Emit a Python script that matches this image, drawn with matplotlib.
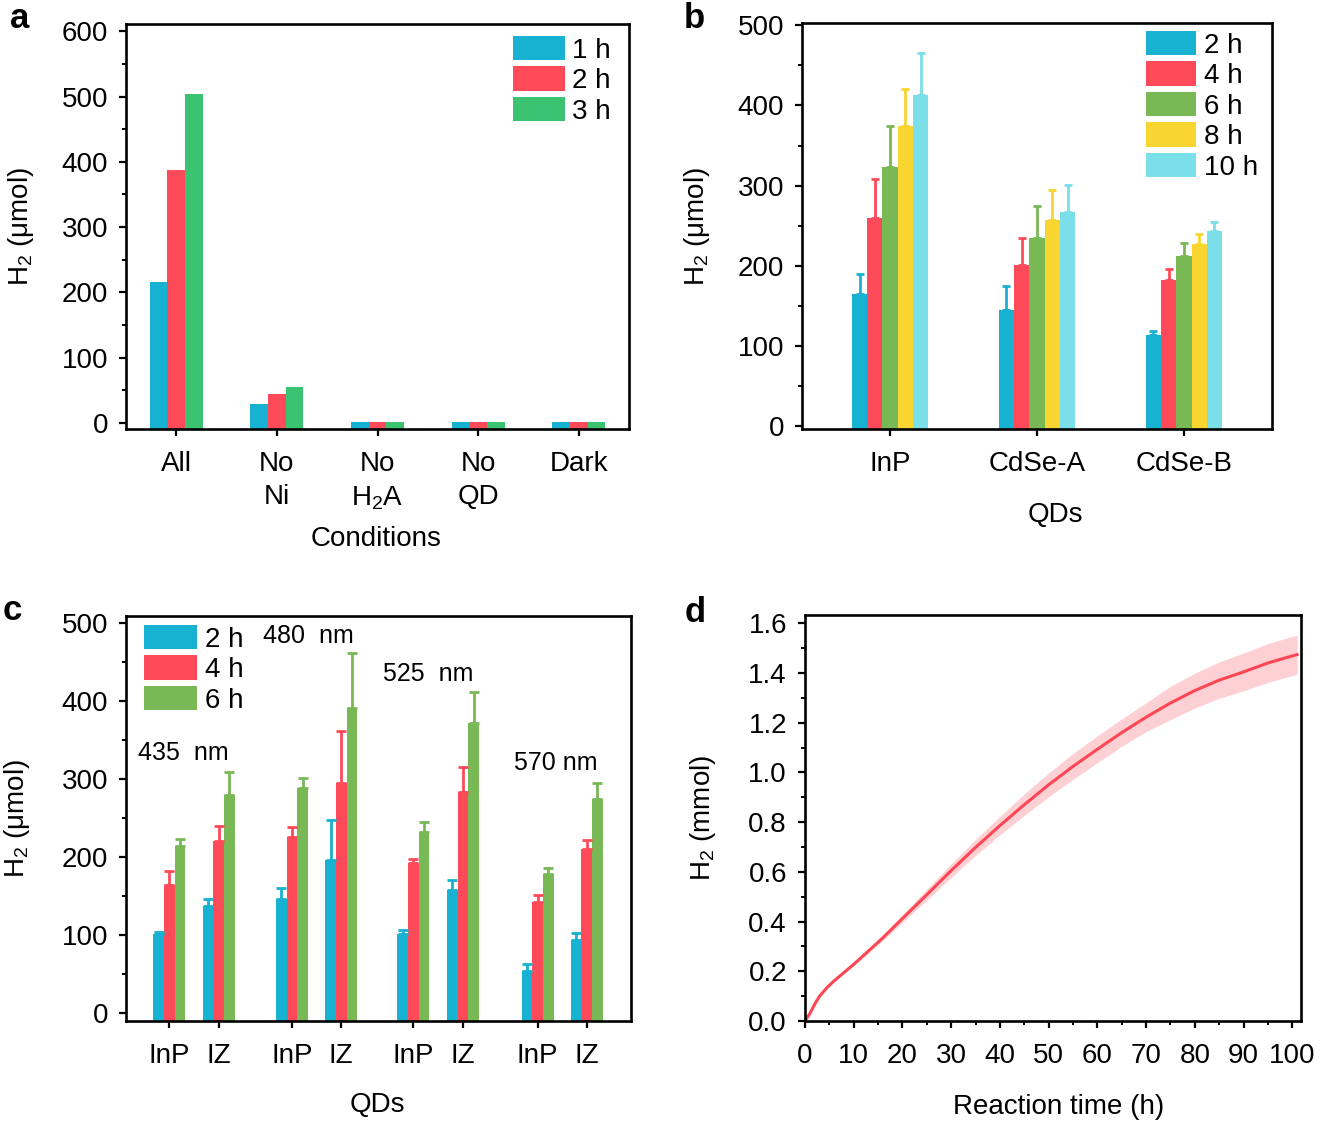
import matplotlib
matplotlib.use("Agg")
import matplotlib.pyplot as plt
import numpy as np
from matplotlib.ticker import MultipleLocator, FormatStrFormatter

plt.rcParams["font.family"] = ["Liberation Sans", "DejaVu Sans"]
plt.rcParams["mathtext.fontset"] = "custom"
plt.rcParams["mathtext.rm"] = "Liberation Sans"
plt.rcParams["mathtext.it"] = "Liberation Sans:italic"
plt.rcParams["font.size"] = 20

# ---- panel a data ----
a_conditions = ["All", "No\nNi", "No\nH$_2$A", "No\nQD", "Dark"]
a_labels = ["1 h", "2 h", "3 h"]
a_1h = [216, 29, 2, 2, 2]
a_2h = [387, 44, 2, 2, 2]
a_3h = [504, 56, 2, 2, 2]

# ---- panel b data ----
b_qds = ["InP", "CdSe-A", "CdSe-B"]
b_labels = ["2 h", "4 h", "6 h", "8 h", "10 h"]
b_vals = [
    [165, 144, 113],
    [260, 201, 182],
    [323, 234, 212],
    [374, 257, 227],
    [413, 267, 243],
]
b_errs = [
    [25, 31, 5],
    [48, 34, 14],
    [51, 41, 16],
    [47, 38, 12],
    [52, 34, 11],
]

# ---- panel c data ----
c_qds = ["InP", "IZ", "InP", "IZ", "InP", "IZ", "InP", "IZ"]
c_labels = ["2 h", "4 h", "6 h"]
c_vals = [
    [101, 138, 146, 196, 102, 158, 54, 94],
    [164, 221, 226, 295, 192, 284, 143, 210],
    [214, 280, 289, 391, 232, 372, 178, 274],
]
c_errs = [
    [3, 8, 15, 52, 4, 13, 9, 9],
    [18, 19, 13, 67, 6, 31, 8, 12],
    [9, 29, 12, 71, 13, 40, 8, 21],
]
c_wavelengths = ["435  nm", "480  nm", "525  nm", "570 nm"]

# ---- panel d data ----
d_time = [0, 1, 2, 3, 4.5, 6, 8, 10, 13, 16, 20, 25, 30, 35, 40, 45, 50,
          55, 60, 65, 70, 75, 80, 85, 90, 95, 101]
d_h2 = [0, 0.030, 0.068, 0.100, 0.134, 0.162, 0.195, 0.228, 0.281, 0.335,
        0.412, 0.508, 0.605, 0.698, 0.786, 0.870, 0.950, 1.024, 1.093, 1.160,
        1.222, 1.279, 1.329, 1.371, 1.404, 1.440, 1.474]
d_sd = [0, 0, 0.001, 0.001, 0.002, 0.002, 0.003, 0.004, 0.007, 0.011,
        0.015, 0.022, 0.027, 0.032, 0.037, 0.043, 0.048, 0.052, 0.054, 0.055,
        0.058, 0.067, 0.070, 0.073, 0.076, 0.078, 0.079]

BLUE = "#17b1d2"
RED = "#ff4a59"
GREEN_A = "#3cc371"
GREEN = "#78b855"
YELLOW = "#f8d531"
CYAN = "#7adfe8"

W, H = 1323, 1123
fig = plt.figure(figsize=(W / 100, H / 100), dpi=100)


def px_axes(x0, y0, x1, y1):
    return fig.add_axes([x0 / W, 1 - y1 / H, (x1 - x0) / W, (y1 - y0) / H])


def style(ax):
    for s in ax.spines.values():
        s.set_linewidth(1.9)
    ax.tick_params(which="major", direction="out", length=5, width=1.6, labelsize=20)
    ax.tick_params(which="minor", direction="out", length=3, width=1.4)
    ax.tick_params(axis="x", which="major", pad=11)
    ax.tick_params(axis="y", which="major", pad=8)


def legend(ax, labels, colors, x, y, hl, tp):
    handles = [plt.Rectangle((0, 0), 1, 1, color=c, lw=0) for c in colors]
    ax.legend(handles, labels, loc="upper left", bbox_to_anchor=(x / W, 1 - y / H),
              bbox_transform=fig.transFigure, frameon=False, borderpad=0, borderaxespad=0,
              handlelength=hl, handleheight=0.97, labelspacing=0.1, handletextpad=tp,
              fontsize=20)


# ================= a =================
ax = px_axes(126, 24, 629, 429)
ylo = -9
x = np.arange(len(a_conditions))
w = 0.176
for i, (vals, col) in enumerate(zip([a_1h, a_2h, a_3h], [BLUE, RED, GREEN_A])):
    v = np.array(vals, dtype=float)
    ax.bar(x + (i - 1) * w, v - ylo, bottom=ylo, width=w, color=col, lw=0)
ax.set_xlim(-0.5, 4.5)
ax.set_ylim(ylo, 611)
ax.set_xticks(x)
ax.set_xticklabels(a_conditions, linespacing=1.35, va="top")
ax.yaxis.set_major_locator(MultipleLocator(100))
ax.yaxis.set_minor_locator(MultipleLocator(50))
style(ax)
ax.set_ylabel("H$_2$ (μmol)")
ax.yaxis.set_label_coords(-0.179, 0.5)
ax.set_xlabel("Conditions")
ax.xaxis.set_label_coords(0.497, -0.24)
legend(ax, a_labels, [BLUE, RED, GREEN_A], 513, 36, 1.87, 0.25)

# ================= b =================
ax = px_axes(802, 23, 1272, 429)
ylo = -4
x = np.arange(len(b_qds))
w = 0.104
b_colors = [BLUE, RED, GREEN, YELLOW, CYAN]
for i, (vals, errs, col) in enumerate(zip(b_vals, b_errs, b_colors)):
    v = np.array(vals, dtype=float)
    xs = x + (i - 2) * w
    ax.bar(xs, v - ylo, bottom=ylo, width=w, color=col, lw=0)
    ax.errorbar(xs, v, yerr=[np.zeros(len(v)), errs], fmt="none", ecolor=col,
                elinewidth=2, capsize=3.2, capthick=2)
ax.set_xlim(-0.6, 2.6)
ax.set_ylim(ylo, 503)
ax.set_xticks(x)
ax.set_xticklabels(b_qds)
ax.yaxis.set_major_locator(MultipleLocator(100))
ax.yaxis.set_minor_locator(MultipleLocator(50))
style(ax)
ax.set_ylabel("H$_2$ (μmol)")
ax.yaxis.set_label_coords(-0.191, 0.5)
ax.set_xlabel("QDs")
ax.xaxis.set_label_coords(0.54, -0.18)
legend(ax, b_labels, b_colors, 1146, 31, 1.8, 0.3)

# ================= c =================
ax = px_axes(126, 616, 631, 1021)
ylo = -10
xc = np.array([0, 1, 2.48, 3.48, 4.94, 5.95, 7.46, 8.45])
w = 0.216
c_colors = [BLUE, RED, GREEN]
for i, (vals, errs, col) in enumerate(zip(c_vals, c_errs, c_colors)):
    v = np.array(vals, dtype=float)
    xs = xc + (i - 1) * w
    ax.bar(xs, v - ylo, bottom=ylo, width=w, color=col, lw=0)
    ax.errorbar(xs, v, yerr=[np.zeros(len(v)), errs], fmt="none", ecolor=col,
                elinewidth=2, capsize=3.5, capthick=2)
wl_pos = [(-0.63, 334), (1.89, 484), (4.33, 435), (6.98, 320)]
for txt, (tx, ty) in zip(c_wavelengths, wl_pos):
    ax.text(tx, ty, txt, ha="left", va="center", fontsize=18)
ax.set_xlim(-0.88, 9.35)
ax.set_ylim(ylo, 509)
ax.set_xticks(xc)
ax.set_xticklabels(c_qds)
ax.yaxis.set_major_locator(MultipleLocator(100))
ax.yaxis.set_minor_locator(MultipleLocator(50))
style(ax)
ax.set_ylabel("H$_2$ (μmol)")
ax.yaxis.set_label_coords(-0.186, 0.5)
ax.set_xlabel("QDs")
ax.xaxis.set_label_coords(0.497, -0.175)
legend(ax, c_labels, c_colors, 144, 625, 1.9, 0.29)

# ================= d =================
ax = px_axes(805, 615, 1301, 1021)
t = np.array(d_time)
h2 = np.array(d_h2)
sd = np.array(d_sd)
ax.fill_between(t, h2 - sd, h2 + sd, color="#fdd0d4", lw=0)
ax.plot(t, h2, color="#ff4655", lw=2.2)
ax.set_xlim(0, 101.8)
ax.set_ylim(0, 1.633)
ax.xaxis.set_major_locator(MultipleLocator(10))
ax.xaxis.set_minor_locator(MultipleLocator(5))
ax.yaxis.set_major_locator(MultipleLocator(0.2))
ax.yaxis.set_minor_locator(MultipleLocator(0.1))
ax.yaxis.set_major_formatter(FormatStrFormatter("%.1f"))
style(ax)
ax.set_ylabel("H$_2$ (mmol)")
ax.yaxis.set_label_coords(-0.175, 0.5)
ax.set_xlabel("Reaction time (h)")
ax.xaxis.set_label_coords(0.512, -0.18)

# panel letters
for letter, (lx, ly) in zip("abcd", [(20, 18), (694, 18), (12, 611), (695, 612)]):
    fig.text(lx / W, 1 - ly / H, letter, fontsize=25, fontweight="bold",
             ha="center", va="center")

fig.savefig("out.png", dpi=100)
